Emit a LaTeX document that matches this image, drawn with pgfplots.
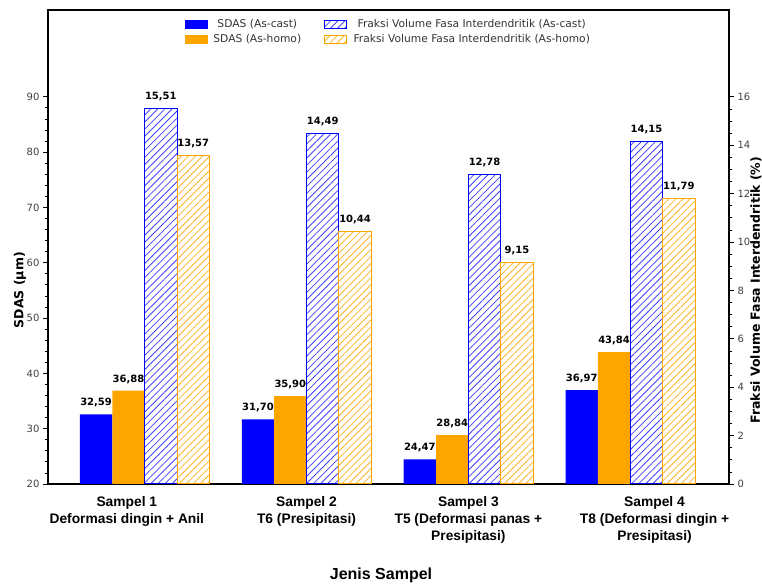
\documentclass[border=0pt]{standalone}
\usepackage{pgfplots}
\pgfplotsset{compat=1.18}
\usepackage{fontspec}
\setmainfont{DejaVu Sans}
\newfontfamily\arialfont{Liberation Sans}
\usetikzlibrary{patterns.meta}
\definecolor{mblue}{RGB}{0,0,255}
\definecolor{morange}{RGB}{255,165,0}
\pgfplotsset{
  common/.style={
    at={(0pt,0pt)}, anchor=south west, scale only axis,
    width=681pt, height=474pt,
    xmin=-0.597, xmax=3.61,
    /pgf/number format/assume math mode=true,
    tick align=outside, major tick length=5pt, minor tick length=3pt,
    tick style={black, line width=0.8pt},
    axis line style={line width=1.3pt},
    ticklabel style={font=\fontsize{10}{12}\selectfont, text=black!75},
    ylabel style={font=\bfseries\fontsize{12.5}{14}\selectfont},
    nodes near coords={\pgfmathprintnumber[fixed,fixed zerofill,precision=2,use comma,assume math mode=true]{\pgfplotspointmeta}},
    every node near coord/.append style={font=\bfseries\fontsize{10}{12}\selectfont, anchor=south, inner sep=0pt, yshift=7pt, text=black},
  },
}
\begin{document}
\begin{tikzpicture}
\useasboundingbox (-48pt,-101pt) rectangle (714pt,484pt);
\begin{axis}[common,
  ymin=20, ymax=105.7,
  ytick={20,30,...,90}, minor y tick num=4, ytick pos=left,
  xtick={-0.11,1,2,3.15},
  xticklabels={{Sampel 1\\Deformasi dingin + Anil},{Sampel 2\\T6 (Presipitasi)},{Sampel 3\\T5 (Deformasi panas +\\Presipitasi)},{Sampel 4\\T8 (Deformasi dingin +\\Presipitasi)}},
  xtick style={draw=none},
  xticklabel style={font=\arialfont\bfseries\fontsize{13.8}{16.8}\selectfont, align=center, text=black, yshift=-4pt},
  xlabel={Jenis Sampel},
  xlabel style={font=\arialfont\bfseries\fontsize{16}{18}\selectfont, at={(axis description cs:0.5,0)}, anchor=center, yshift=-91pt, xshift=-7.5pt},
  ylabel={SDAS (μm)},
  ylabel style={at={([xshift=-28pt]axis description cs:0,0.409)}, anchor=center},
]
\addplot[ybar, bar width=0.2, bar shift=0, fill=mblue, draw=none] coordinates {(-0.3,32.59) (0.7,31.70) (1.7,24.47) (2.7,36.97)};
\addplot[ybar, bar width=0.2, bar shift=0, fill=morange, draw=none] coordinates {(-0.1,36.88) (0.9,35.90) (1.9,28.84) (2.9,43.84)};
\end{axis}
\begin{axis}[common,
  ymin=0, ymax=19.59,
  axis x line=none, axis y line*=right,
  ytick={0,2,...,16}, minor y tick num=3,
  ylabel={Fraksi Volume Fasa Interdendritik (\%)},
  ylabel style={at={([xshift=27pt]axis description cs:1,0.409)}, anchor=center},
  legend columns=2,
  legend image code/.code={\path[#1] (0pt,-4pt) rectangle (22pt,4pt);},
  legend style={at={(0.5,0.99)}, anchor=north, draw=none, fill=none,
    font=\fontsize{10.7}{12}\selectfont, text=black!80,
    nodes={inner sep=2.2pt, text height=8pt, text depth=2.5pt},
    /tikz/every odd column/.append style={column sep=4pt},
    /tikz/every even column/.append style={column sep=21pt}},
]
\addlegendimage{fill=mblue, draw=mblue}
\addlegendentry{SDAS (As-cast)}
\addplot[ybar, bar width=0.2, bar shift=0, draw=mblue, line width=1pt, pattern={Lines[angle=45,distance=5pt,line width=0.8pt]}, pattern color=mblue!75] coordinates {(0.1,15.51) (1.1,14.49) (2.1,12.78) (3.1,14.15)};
\addlegendentry{Fraksi Volume Fasa Interdendritik (As-cast)}
\addlegendimage{fill=morange, draw=morange}
\addlegendentry{SDAS (As-homo)}
\addplot[ybar, bar width=0.2, bar shift=0, draw=morange, line width=1pt, pattern={Lines[angle=45,distance=5pt,line width=0.8pt]}, pattern color=morange!85] coordinates {(0.3,13.57) (1.3,10.44) (2.3,9.15) (3.3,11.79)};
\addlegendentry{Fraksi Volume Fasa Interdendritik (As-homo)}
\end{axis}
\end{tikzpicture}
\end{document}
